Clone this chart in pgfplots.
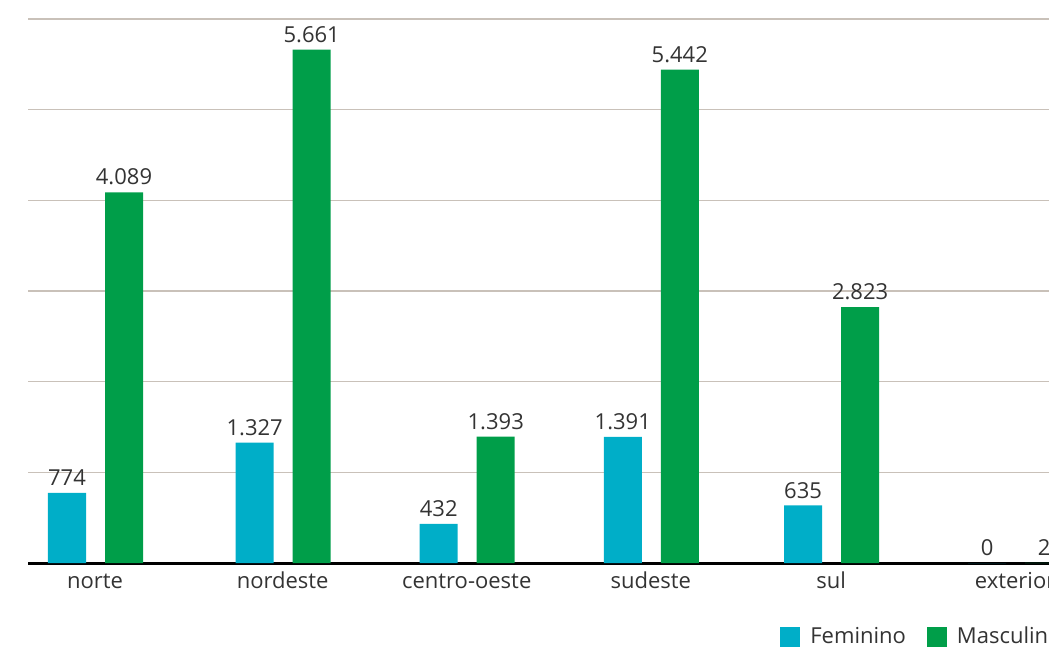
\documentclass[border=0pt]{standalone}
\usepackage{pgfplots}
\pgfplotsset{compat=1.18}
\usepackage{fontspec}
\setmainfont{Open Sans}
\definecolor{fem}{HTML}{00AEC8}
\definecolor{masc}{HTML}{009E49}
\definecolor{gridc}{HTML}{C9C1B9}
\definecolor{txt}{HTML}{333333}
\begin{document}
\begin{tikzpicture}
\begin{axis}[
  at={(0pt,0pt)}, anchor=origin,
  scale only axis, width=546pt, height=272pt,
  xmin=-0.364, xmax=5.57, ymin=0, ymax=6000,
  ybar, bar width=19pt,
  axis x line*=bottom, axis y line*=left,
  x axis line style={black, line width=1.5pt, -},
  y axis line style={draw=none},
  xtick={0,1.02,2.02,3.02,4,5},
  xticklabels={norte,nordeste,centro-oeste,sudeste,sul,exterior},
  ytick={1000,2000,3000,4000,5000,6000},
  yticklabels={},
  major tick length=0pt,
  ymajorgrids, grid style={gridc, line width=0.6pt},
  tick label style={font=\fontsize{11}{13}\selectfont, text=txt},
  xticklabel style={text height=8pt, text depth=2.5pt, yshift=-1pt},
  /pgf/number format/1000 sep={.},
  nodes near coords={\pgfmathprintnumber[assume math mode=true]{\pgfplotspointmeta}},
  every node near coord/.append style={font=\fontsize{11}{13}\selectfont, text=txt},
  legend columns=2,
  legend style={at={(0.6886,-0.136)}, anchor=west, draw=none, inner sep=0pt,
    font=\fontsize{11}{13}\selectfont, text=txt,
    /tikz/every odd column/.append style={column sep=3pt},
    /tikz/every even column/.append style={column sep=8.5pt}},
  legend image code/.code={\fill[#1] (0pt,-5pt) rectangle (10pt,5pt);},
]
\addplot[bar shift=-14pt, fill=fem, draw=none] coordinates {
(0,774) (1.02,1327) (2.02,432) (3.02,1391) (4,635) (5,0)
};
\addplot[bar shift=14.5pt, fill=masc, draw=none] coordinates {
(0,4089) (1.02,5661) (2.02,1393) (3.02,5442) (4,2823) (5,2)
};
\legend{Feminino,Masculino}
\end{axis}
\pgfresetboundingbox
\path[use as bounding box] (-47.5pt,-42.5pt) rectangle (477pt,281.5pt);
\end{tikzpicture}
\end{document}
